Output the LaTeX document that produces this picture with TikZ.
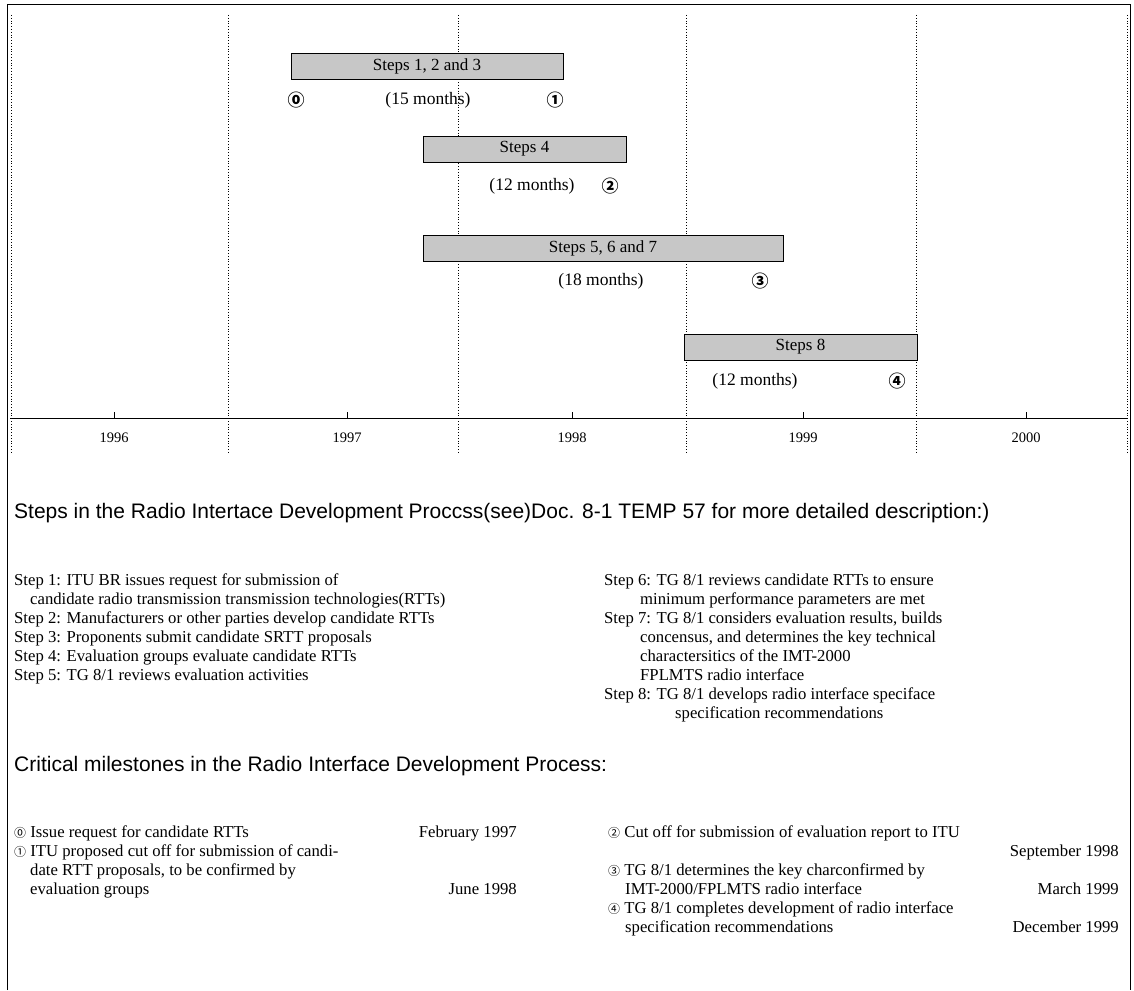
\documentclass[tikz,border=0pt]{standalone}
\usepackage{fontspec}
\setmainfont{Liberation Serif}
\setsansfont{Liberation Sans}
\newfontfamily\circfont{Noto Sans CJK JP}
\usetikzlibrary{positioning}

\tikzset{
  bar/.style={draw=black, fill=black!22, line width=0.8pt, inner sep=0pt,
    minimum height=26pt, font=\fontsize{17}{19}\selectfont},
  dur/.style={inner sep=0pt, font=\fontsize{17.5}{19}\selectfont},
  msnum/.style={inner sep=0pt, font=\circfont\bfseries\fontsize{17}{19}\selectfont},
  yearlbl/.style={inner sep=0pt, font=\fontsize{14.5}{17}\selectfont},
  body/.style={anchor=base west, inner sep=0pt, font=\fontsize{16.7}{19}\selectfont},
  date/.style={anchor=base east, inner sep=0pt, font=\fontsize{16.7}{19}\selectfont},
  head/.style={anchor=base west, inner sep=0pt, font=\sffamily\fontsize{21}{24}\selectfont},
  halfyear/.style={dotted, line width=0.8pt},
}
\newcommand{\cn}[1]{{\circfont\fontsize{12}{13}\selectfont #1}}

\begin{document}
\begin{tikzpicture}[x=1pt, y=-1pt]
    \useasboundingbox (0,0) rectangle (1134,990);
    % frame
    \draw[line width=1pt] (7,990) -- (7,5) -- (1130,5) -- (1130,990);

    % half-year grid and time axis
    \foreach \x in {11,228,458,686,916,1127}
        \draw[halfyear] (\x,15) -- (\x,452);
    \draw[line width=0.9pt] (10,418) -- (1128,418);
    \foreach \yr/\x in {1996/114,1997/347,1998/572,1999/803,2000/1026} {
        \draw[line width=0.9pt] (\x,412) -- (\x,418);
        \node[yearlbl] (y\yr) at (\x,438) {\yr};
    }

    % bars
    \node[bar, minimum width=272pt] (bar123) at (427,66)  {Steps 1, 2 and 3};
    \node[bar, minimum width=203pt] (bar4)   at (524.5,149) {Steps 4};
    \node[bar, minimum width=360pt] (bar567) at (603,248) {Steps 5, 6 and 7};
    \node[bar, minimum width=233pt] (bar8)   at (800.5,347) {Steps 8};

    % durations and milestones
    \node[dur] (d123) at (428,100) {(15 months)};
    \node[dur] (d4)   at (532,186) {(12 months)};
    \node[dur] (d567) at (601,281) {(18 months)};
    \node[dur] (d8)   at (755,381) {(12 months)};
    \node[msnum] (m0) at (296,100) {⓪};
    \node[msnum] (m1) at (555,100) {①};
    \node[msnum] (m2) at (610,186) {②};
    \node[msnum] (m3) at (760,281) {③};
    \node[msnum] (m4) at (897,381) {④};

    % steps
    \node[head] (stephead) at (14,518) {Steps in the Radio Intertace Development Proccss(see)Doc. 8-1 TEMP 57 for more detailed description:)};
    \foreach \nm/\x/\y/\txt in {
        s1/14/585/{Step 1: ITU BR issues request for submission of},
        s1b/30/604/{candidate radio transmission transmission technologies(RTTs)},
        s2/14/623/{Step 2: Manufacturers or other parties develop candidate RTTs},
        s3/14/642/{Step 3: Proponents submit candidate SRTT proposals},
        s4/14/661/{Step 4: Evaluation groups evaluate candidate RTTs},
        s5/14/680/{Step 5: TG 8/1 reviews evaluation activities},
        s6/604/585/{Step 6: TG 8/1 reviews candidate RTTs to ensure},
        s6b/640/604/{minimum performance parameters are met},
        s7/604/623/{Step 7: TG 8/1 considers evaluation results, builds},
        s7b/640/642/{concensus, and determines the key technical},
        s7c/640/661/{charactersitics of the IMT-2000},
        s7d/640/680/{FPLMTS radio interface},
        s8/604/699/{Step 8: TG 8/1 develops radio interface speciface},
        s8b/675/718/{specification recommendations}}
        \node[body] (\nm) at (\x,\y) {\txt};

    % milestones
    \node[head] (mshead) at (14,771) {Critical milestones in the Radio Interface Development Process:};
    \foreach \nm/\x/\y/\txt in {
        c0/14/837/{\cn{⓪} Issue request for candidate RTTs},
        c1/14/856/{\cn{①} ITU proposed cut off for submission of candi-},
        c1b/30/875/{date RTT proposals, to be confirmed by},
        c1c/30/894/{evaluation groups},
        c2/608/837/{\cn{②} Cut off for submission of evaluation report to ITU},
        c3/608/875/{\cn{③} TG 8/1 determines the key charconfirmed by},
        c3b/625/894/{IMT-2000/FPLMTS radio interface},
        c4/608/913/{\cn{④} TG 8/1 completes development of radio interface},
        c4b/625/932/{specification recommendations}}
        \node[body] (\nm) at (\x,\y) {\txt};
    \foreach \nm/\x/\y/\txt in {
        dt0/517/837/{February 1997},
        dt1/517/894/{June 1998},
        dt2/1119/856/{September 1998},
        dt3/1119/894/{March 1999},
        dt4/1119/932/{December 1999}}
        \node[date] (\nm) at (\x,\y) {\txt};
\end{tikzpicture}
\end{document}
